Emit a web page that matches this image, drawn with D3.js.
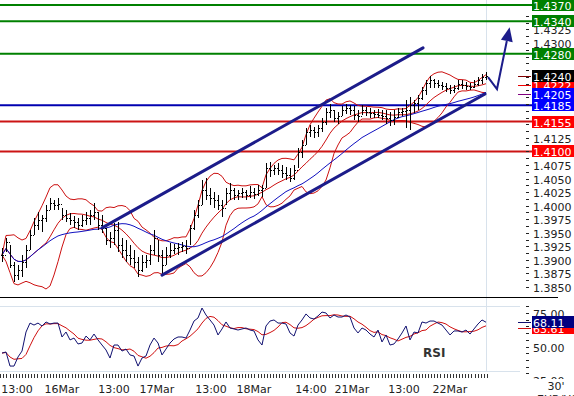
<!DOCTYPE html>
<html>
<head>
<meta charset="utf-8">
<script src="https://cdn.jsdelivr.net/npm/d3@7"></script>
<style>
body { margin: 0; background: #fff; }
svg { display: block; font-family: "DejaVu Sans", Verdana, sans-serif; }
</style>
</head>
<body>
<svg id="chart" width="574" height="396"></svg>
<script>
//bar data, one value per 30' bar
var highs = [1.3922,1.3940,1.3927,1.3896,1.3891,1.3909,1.3927,1.3955,1.3977,1.3988,
1.3983,1.4001,1.4014,1.4010,1.4014,1.3996,1.3992,1.3986,1.3981,1.3977,
1.3983,1.3988,1.3992,1.4005,1.3988,1.3983,1.3959,1.3951,1.3968,1.3970,
1.3940,1.3937,1.3927,1.3918,1.3905,1.3909,1.3909,1.3927,1.3955,1.3937,
1.3918,1.3924,1.3931,1.3929,1.3931,1.3933,1.3937,1.3964,1.3992,1.4010,
1.4047,1.4051,1.4033,1.4025,1.4020,1.4010,1.4033,1.4042,1.4033,1.4029,
1.4033,1.4029,1.4036,1.4033,1.4038,1.4038,1.4079,1.4081,1.4075,1.4079,
1.4075,1.4071,1.4069,1.4075,1.4106,1.4121,1.4143,1.4149,1.4145,1.4149,
1.4162,1.4180,1.4187,1.4176,1.4173,1.4184,1.4187,1.4186,1.4184,1.4176,
1.4186,1.4182,1.4180,1.4176,1.4178,1.4176,1.4176,1.4173,1.4176,1.4180,
1.4180,1.4195,1.4200,1.4195,1.4204,1.4219,1.4232,1.4239,1.4234,1.4232,
1.4228,1.4226,1.4222,1.4222,1.4232,1.4232,1.4228,1.4226,1.4232,1.4237,
1.4243,1.4246];
var lows = [1.3896,1.3915,1.3885,1.3859,1.3863,1.3868,1.3885,1.3918,1.3946,1.3955,
1.3951,1.3970,1.3992,1.3992,1.3992,1.3974,1.3970,1.3964,1.3959,1.3955,
1.3961,1.3964,1.3964,1.3974,1.3955,1.3950,1.3927,1.3922,1.3927,1.3915,
1.3903,1.3896,1.3891,1.3885,1.3868,1.3878,1.3885,1.3891,1.3909,1.3896,
1.3872,1.3891,1.3903,1.3911,1.3909,1.3915,1.3911,1.3927,1.3955,1.3977,
1.4001,1.4010,1.4001,1.3996,1.3992,1.3979,1.4001,1.4010,1.4010,1.4010,
1.4014,1.4010,1.4014,1.4012,1.4018,1.4016,1.4033,1.4053,1.4057,1.4057,
1.4051,1.4047,1.4044,1.4047,1.4069,1.4088,1.4112,1.4127,1.4125,1.4127,
1.4136,1.4149,1.4162,1.4154,1.4151,1.4165,1.4169,1.4167,1.4158,1.4154,
1.4167,1.4165,1.4162,1.4162,1.4162,1.4158,1.4151,1.4147,1.4149,1.4162,
1.4165,1.4143,1.4140,1.4171,1.4176,1.4195,1.4204,1.4217,1.4217,1.4217,
1.4213,1.4210,1.4206,1.4208,1.4213,1.4215,1.4213,1.4213,1.4217,1.4221,
1.4224,1.4232];
var closes = [1.3909,1.3933,1.3891,1.3872,1.3881,1.3896,1.3918,1.3946,1.3964,1.3974,
1.3977,1.3992,1.4005,1.4001,1.4003,1.3983,1.3977,1.3974,1.3970,1.3964,
1.3974,1.3977,1.3983,1.3988,1.3964,1.3959,1.3937,1.3940,1.3955,1.3927,
1.3918,1.3909,1.3903,1.3896,1.3881,1.3896,1.3900,1.3918,1.3940,1.3909,
1.3891,1.3909,1.3918,1.3922,1.3924,1.3926,1.3922,1.3959,1.3983,1.4001,
1.4029,1.4020,1.4014,1.4010,1.4001,1.3996,1.4023,1.4029,1.4020,1.4023,
1.4025,1.4020,1.4025,1.4021,1.4029,1.4033,1.4069,1.4066,1.4069,1.4066,
1.4060,1.4057,1.4051,1.4066,1.4099,1.4112,1.4136,1.4140,1.4136,1.4143,
1.4154,1.4173,1.4176,1.4162,1.4165,1.4176,1.4180,1.4176,1.4167,1.4165,
1.4176,1.4173,1.4171,1.4169,1.4167,1.4165,1.4162,1.4158,1.4163,1.4173,
1.4175,1.4176,1.4186,1.4189,1.4198,1.4213,1.4226,1.4232,1.4226,1.4222,
1.4221,1.4217,1.4213,1.4217,1.4224,1.4222,1.4221,1.4219,1.4224,1.4232,
1.4237,1.4240];
var rsiValues = [45.1,45.9,35.4,35.4,42.2,46.6,60.8,67.5,66.0,67.5,
65.3,68.3,66.8,67.5,67.5,57.1,60.8,54.9,56.3,51.9,
52.6,57.8,54.9,59.3,54.9,51.1,47.4,41.4,51.1,51.1,
46.6,48.1,43.7,42.9,35.4,41.4,42.9,51.1,56.3,52.6,
43.7,48.1,52.6,55.6,57.1,57.1,56.3,62.3,69.0,71.3,
78.7,73.5,69.8,66.0,58.6,63.1,68.3,63.8,63.1,62.3,
63.1,63.8,62.3,61.6,54.9,51.1,65.3,69.0,69.8,67.5,
67.5,66.8,60.1,57.8,66.0,69.8,74.3,71.3,70.5,72.8,
75.7,75.0,71.3,73.5,72.0,72.0,73.5,72.0,63.8,60.1,
63.8,62.3,59.3,57.1,62.3,53.4,58.6,51.1,51.9,55.6,
60.1,65.3,54.9,60.8,60.1,68.3,67.5,69.0,69.0,67.5,
66.0,62.3,58.6,61.6,61.6,60.8,62.3,59.3,63.1,66.8,
69.8,68.11];

//support / resistance levels
var greenLevels = [1.4370, 1.4340, 1.4280];
var redLevels = [1.4155, 1.4100];
var blueLevels = [1.4185];
//last value tags on the price axis (close, band, average)
var lastTags = [1.4240, 1.4222, 1.4205];
var rsiTags = [68.11, 63.61];
var rsiTicks = [25, 50, 75];

//time axis labels and their bar index
var timeLabels = ["13:00", "16Mar", "13:00", "17Mar", "13:00", "18Mar", "14:00", "21Mar", "13:00", "22Mar"];
var timeLabelPos = [3.75, 15, 28, 38.75, 52.25, 63, 77.25, 87.5, 100.5, 112];

//trend channel and forecast arrow as [bar index, price]
var channelUpper = [[25, 1.3959], [105.25, 1.4291]];
var channelLower = [[40, 1.3872], [120.75, 1.4206]];
var arrowPoints = [[121.5, 1.4237], [123.75, 1.4215], [126.9, 1.4329]];

var svg = d3.select("#chart");
var navy = "#1c1c8a";

var x = d3.scaleLinear().domain([0, 121]).range([2, 486]);
var y = d3.scaleLinear().domain([1.3850, 1.4370]).range([287, 5]);
var yr = d3.scaleLinear().domain([25, 75]).range([380, 313]);

//moving average over the last n values (shorter window at the start)
function windowAt(arr, n, i) {
    return arr.slice(Math.max(0, i - n + 1), i + 1);
}
var mid = [], upper = [], lower = [], ma = [], rsiMa = [];
for (var i = 0; i < closes.length; i++) {
    var w = windowAt(closes, 10, i);
    var m = d3.mean(w);
    var sd = Math.sqrt(d3.mean(w, function (v) { return (v - m) * (v - m); }));
    mid.push(m);
    upper.push(m + 2 * sd);
    lower.push(m - 2 * sd);
    ma.push(d3.mean(windowAt(closes, 25, i)));
    rsiMa.push(d3.mean(windowAt(rsiValues, 5, i)));
}

svg.append("rect").attr("width", 574).attr("height", 396).attr("fill", "#fff");

svg.append("defs").append("clipPath").attr("id", "plotclip")
    .append("rect").attr("x", 0).attr("y", 0).attr("width", 488).attr("height", 293);
svg.select("defs").append("clipPath").attr("id", "rsiclip")
    .append("rect").attr("x", 0).attr("y", 299).attr("width", 574).attr("height", 80);

//light frame lines
svg.append("line").attr("x1", 486.5).attr("x2", 486.5).attr("y1", 0).attr("y2", 372)
    .attr("stroke", "#d8e2ec");
[306.5, 371.5].forEach(function (yy) {
    svg.append("line").attr("x1", 0).attr("x2", 520).attr("y1", yy).attr("y2", yy)
        .attr("stroke", "#d8e2ec");
});
svg.append("line").attr("x1", 0).attr("x2", 558).attr("y1", 297.5).attr("y2", 297.5)
    .attr("stroke", "#000");

//horizontal levels
function drawLevels(levels, color) {
    svg.selectAll(null).data(levels).enter().append("line")
        .attr("x1", 0).attr("x2", 532)
        .attr("y1", function (d) { return y(d); })
        .attr("y2", function (d) { return y(d); })
        .attr("stroke", color).attr("stroke-width", 2);
}
drawLevels(greenLevels, "#008000");
drawLevels(redLevels, "#cc1414");
drawLevels(blueLevels, "#0000b0");

var plot = svg.append("g").attr("clip-path", "url(#plotclip)");
var line = d3.line().x(function (d, i) { return x(i); }).y(function (d) { return y(d); });

//bollinger bands and average
[upper, mid, lower].forEach(function (band) {
    plot.append("path").attr("d", line(band)).attr("fill", "none")
        .attr("stroke", "#cc1010").attr("stroke-width", 1);
});
plot.append("path").attr("d", line(ma)).attr("fill", "none")
    .attr("stroke", "#1010c0").attr("stroke-width", 1);

//ohlc bars
var bars = plot.selectAll("g.bar").data(closes).enter().append("g").attr("class", "bar");
bars.append("rect")
    .attr("x", function (d, i) { return Math.round(x(i)); })
    .attr("y", function (d, i) { return Math.round(y(highs[i])); })
    .attr("width", 1)
    .attr("height", function (d, i) { return Math.max(1, Math.round(y(lows[i])) - Math.round(y(highs[i]))); })
    .attr("fill", "#000");
bars.append("rect")
    .attr("x", function (d, i) { return Math.round(x(i)) - 1; })
    .attr("y", function (d, i) { return Math.round(y(i > 0 ? closes[i - 1] : d)); })
    .attr("width", 1).attr("height", 1).attr("fill", "#000");
bars.append("rect")
    .attr("x", function (d, i) { return Math.round(x(i)) + 1; })
    .attr("y", function (d) { return Math.round(y(d)); })
    .attr("width", 1).attr("height", 1).attr("fill", "#000");

//trend channel
[channelUpper, channelLower].forEach(function (c) {
    svg.append("line")
        .attr("x1", x(c[0][0])).attr("y1", y(c[0][1]))
        .attr("x2", x(c[1][0])).attr("y2", y(c[1][1]))
        .attr("stroke", navy).attr("stroke-width", 3).attr("stroke-linecap", "round");
});

//forecast arrow
var ap = arrowPoints.map(function (p) { return [x(p[0]), y(p[1])]; });
var tip = ap[ap.length - 1], prev = ap[ap.length - 2];
var dx = tip[0] - prev[0], dy = tip[1] - prev[1], len = Math.sqrt(dx * dx + dy * dy);
var ux = dx / len, uy = dy / len;
var base = [tip[0] - ux * 14, tip[1] - uy * 14];
var linePts = ap.slice(0, -1).concat([base]);
svg.append("path").attr("d", d3.line()(linePts)).attr("fill", "none")
    .attr("stroke", navy).attr("stroke-width", 2).attr("stroke-linejoin", "miter");
svg.append("path")
    .attr("d", d3.line()([tip, [base[0] - uy * 6, base[1] + ux * 6], [base[0] + uy * 6, base[1] - ux * 6]]) + "Z")
    .attr("fill", navy);

//price axis ticks and labels (labels under a tag are left out, the tag hides them)
var allTags = greenLevels.concat(redLevels, blueLevels, lastTags);
var priceTicks = d3.range(1.3850, 1.43501, 0.00125);
svg.selectAll(null).data(priceTicks).enter().append("line")
    .attr("x1", 526).attr("x2", 529)
    .attr("y1", function (d) { return Math.round(y(d)) + 0.5; })
    .attr("y2", function (d) { return Math.round(y(d)) + 0.5; })
    .attr("stroke", "#222");
var labelTicks = d3.range(1.3850, 1.43501, 0.0025).filter(function (d) {
    return allTags.every(function (t) { return Math.abs(y(t) - y(d)) >= 7; });
});
svg.selectAll(null).data(labelTicks).enter().append("text")
    .attr("x", 533).attr("y", function (d) { return y(d) + 5; })
    .attr("font-size", 11).attr("fill", "#222")
    .text(function (d) { return d.toFixed(4); });

//value tags
function tag(value, yy, color) {
    svg.append("rect").attr("x", 532).attr("y", Math.round(yy) - 6).attr("width", 42).attr("height", 12)
        .attr("fill", color);
    svg.append("text").attr("x", 533).attr("y", Math.round(yy) + 4.5)
        .attr("font-size", 11).attr("fill", "#fff").text(value);
}
var tagColors = ["#000000", "#ff0000", "#0000ff"];
var markColors = ["#800000", "#ee0000", "#800080"];
[1, 0, 2].forEach(function (k) {
    var v = lastTags[k];
    svg.append("line").attr("x1", 518).attr("x2", 531)
        .attr("y1", Math.round(y(v)) + 0.5).attr("y2", Math.round(y(v)) + 0.5)
        .attr("stroke", markColors[k]);
    tag(v.toFixed(4), y(v), tagColors[k]);
});
greenLevels.forEach(function (v) { tag(v.toFixed(4), y(v), "#008000"); });
redLevels.forEach(function (v) { tag(v.toFixed(4), y(v), "#ff0000"); });
blueLevels.forEach(function (v) { tag(v.toFixed(4), y(v), "#0000ff"); });

//rsi panel
var rsiLine = d3.line().x(function (d, i) { return x(i); }).y(function (d) { return yr(d); });
var rsiG = svg.append("g").attr("clip-path", "url(#rsiclip)");
rsiG.append("path").attr("d", rsiLine(rsiMa)).attr("fill", "none")
    .attr("stroke", "#d01010").attr("stroke-width", 1);
rsiG.append("path").attr("d", rsiLine(rsiValues)).attr("fill", "none")
    .attr("stroke", "#101070").attr("stroke-width", 1);
rsiG.selectAll(null).data(d3.range(25, 81, 5)).enter().append("line")
    .attr("x1", 526).attr("x2", 529)
    .attr("y1", function (d) { return Math.round(yr(d)) + 0.5; })
    .attr("y2", function (d) { return Math.round(yr(d)) + 0.5; })
    .attr("stroke", "#222");
rsiG.selectAll(null).data(rsiTicks).enter().append("text")
    .attr("x", 533).attr("y", function (d) { return yr(d) + 5; })
    .attr("font-size", 11).attr("fill", "#222")
    .text(function (d) { return d.toFixed(2); });
svg.append("text").attr("x", 423).attr("y", 357).attr("font-size", 12).attr("font-weight", "bold")
    .attr("fill", "#333").text("RSI");

[1, 0].forEach(function (k) {
    var v = rsiTags[k];
    var c = k === 0 ? "#000080" : "#ff0000";
    svg.append("line").attr("x1", 518).attr("x2", 531)
        .attr("y1", Math.round(yr(v)) + 0.5).attr("y2", Math.round(yr(v)) + 0.5)
        .attr("stroke", k === 0 ? "#101070" : "#d01010");
    tag(v.toFixed(2), yr(v), c);
});

//time axis
svg.selectAll(null).data(d3.range(-0.45, 121.3, 0.775)).enter().append("line")
    .attr("x1", function (d) { return Math.round(x(d)) + 0.5; })
    .attr("x2", function (d) { return Math.round(x(d)) + 0.5; })
    .attr("y1", 374).attr("y2", 378)
    .attr("stroke", "#333");
svg.selectAll(null).data(timeLabels).enter().append("text")
    .attr("x", function (d, i) { return x(timeLabelPos[i]); })
    .attr("y", 393).attr("text-anchor", "middle")
    .attr("font-size", 11).attr("fill", "#222")
    .text(function (d) { return d; });

svg.append("text").attr("x", 556).attr("y", 390).attr("text-anchor", "middle")
    .attr("font-size", 11).attr("fill", "#222").text("30'");
svg.append("text").attr("x", 537).attr("y", 403)
    .attr("font-size", 11).attr("fill", "#222").text("EUR/USD");
</script>
</body>
</html>
